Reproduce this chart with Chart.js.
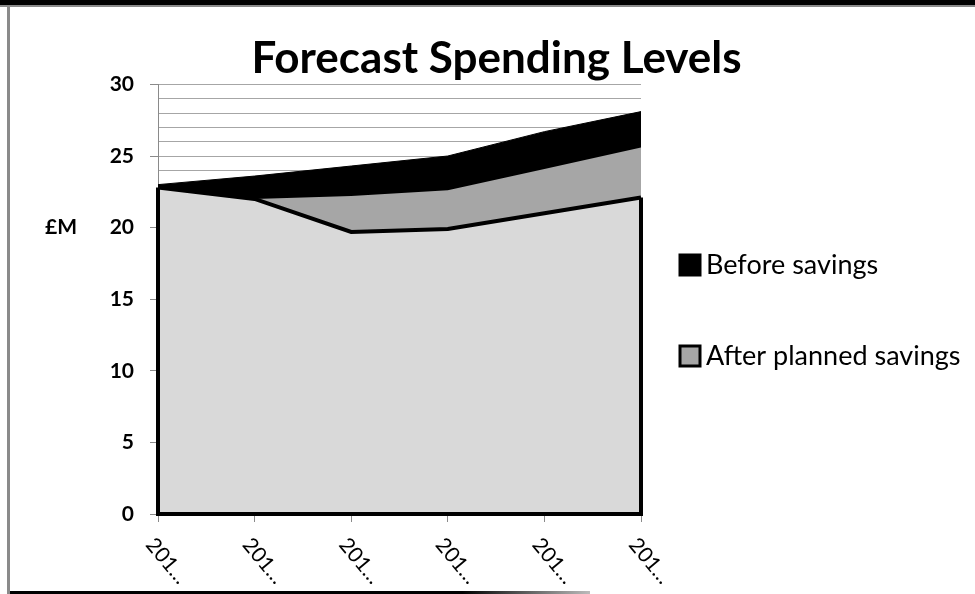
<!DOCTYPE html>
<html>
<head>
<meta charset="utf-8">
<script src="https://cdn.jsdelivr.net/npm/chart.js@4/dist/chart.umd.min.js"></script>
<style>
  html, body { margin: 0; padding: 0; background: #fff; }
  #wrap { position: relative; width: 975px; height: 594px; overflow: hidden; }
  #chart { position: absolute; left: 0; top: 0; }
  .topband { position: absolute; left: 0; top: 0; width: 975px; height: 5px; background: #000; }
  .topgray { position: absolute; left: 0; top: 5px; width: 975px; height: 2px; background: #8a8a8a; }
  .leftline { position: absolute; left: 7px; top: 5px; width: 3px; height: 589px; background: #8a8a8a; }
  .bottomline { position: absolute; left: 10px; top: 591px; width: 580px; height: 3px;
    background: linear-gradient(to right, #000 0%, #000 78%, #bbb 100%); }
</style>
</head>
<body>
<div id="wrap">
  <canvas id="chart" width="975" height="594"></canvas>
  <div class="topband"></div>
  <div class="topgray"></div>
  <div class="leftline"></div>
  <div class="bottomline"></div>
</div>
<script>
// chart data
const years = ["201…", "201…", "201…", "201…", "201…", "201…"];
const beforeSavings = [23.0, 23.6, 24.3, 25.0, 26.7, 28.1];
const afterPlanned = [22.8, 22.0, 22.2, 22.6, 24.1, 25.6];
const baseline = [22.8, 22.0, 19.7, 19.9, 21.0, 22.1];

const FONT = "Lato, 'Open Sans', sans-serif";

// outline the baseline area on its left, bottom and right edges like excel does
const areaOutline = {
  id: "areaOutline",
  afterDatasetsDraw(chart) {
    const pts = chart.getDatasetMeta(0).data;
    if (!pts.length) return;
    const yBottom = chart.scales.y.getPixelForValue(0);
    const ctx = chart.ctx;
    const first = pts[0], last = pts[pts.length - 1];
    ctx.save();
    ctx.strokeStyle = "#000";
    ctx.lineWidth = 4;
    ctx.beginPath();
    ctx.moveTo(first.x, first.y);
    ctx.lineTo(first.x, yBottom);
    ctx.lineTo(last.x, yBottom);
    ctx.lineTo(last.x, last.y);
    ctx.stroke();
    ctx.restore();
  }
};

// slanted category labels, "£M" unit and the legend on the right
const extras = {
  id: "extras",
  afterDraw(chart) {
    const ctx = chart.ctx;
    const x = chart.scales.x, y = chart.scales.y;
    const area = chart.chartArea;
    ctx.save();
    ctx.fillStyle = "#000";
    ctx.font = "21px " + FONT;
    ctx.textAlign = "left";
    ctx.textBaseline = "middle";
    years.forEach((lab, i) => {
      const px = x.getPixelForTick(i);
      ctx.save();
      ctx.translate(px - 8, y.bottom + 27);
      ctx.rotate(50 * Math.PI / 180);
      ctx.fillText(lab, 0, 0);
      ctx.restore();
    });

    ctx.font = "bold 21px " + FONT;
    ctx.fillText("£M", 45, y.getPixelForValue(20));

    // legend: Before savings first, then After planned savings
    const items = [chart.data.datasets[2], chart.data.datasets[1]];
    const lx = area.right + 39;
    let ly = 265;
    ctx.font = "27px " + FONT;
    items.forEach(ds => {
      ctx.fillStyle = ds.backgroundColor;
      ctx.fillRect(lx, ly - 10, 20, 20);
      ctx.strokeStyle = "#000";
      ctx.lineWidth = 3;
      ctx.strokeRect(lx, ly - 10, 20, 20);
      ctx.fillStyle = "#000";
      ctx.fillText(ds.label, lx + 26, ly);
      ly += 91;
    });
    ctx.restore();
  }
};

new Chart(document.getElementById("chart").getContext("2d"), {
  type: "line",
  data: {
    labels: years,
    datasets: [
      {
        label: "Baseline",
        data: baseline,
        backgroundColor: "#d9d9d9",
        borderColor: "#000",
        borderWidth: 4,
        fill: "origin",
        pointRadius: 0,
        tension: 0
      },
      {
        label: "After planned savings",
        data: afterPlanned,
        backgroundColor: "#a6a6a6",
        borderColor: "#a6a6a6",
        borderWidth: 0,
        fill: "origin",
        pointRadius: 0,
        tension: 0
      },
      {
        label: "Before savings",
        data: beforeSavings,
        backgroundColor: "#000",
        borderColor: "#000",
        borderWidth: 1,
        fill: "origin",
        pointRadius: 0,
        tension: 0
      }
    ]
  },
  plugins: [areaOutline, extras],
  options: {
    responsive: false,
    animation: false,
    layout: { padding: { left: 18, right: 0, top: 0, bottom: 72 } },
    plugins: {
      title: {
        display: true,
        text: "Forecast Spending Levels",
        color: "#000",
        font: { family: FONT, size: 44, weight: "bold", lineHeight: 1.1 },
        padding: { top: 35, bottom: 1 }
      },
      legend: { display: false },
      tooltip: { enabled: false }
    },
    scales: {
      x: {
        offset: false,
        ticks: { display: false },
        grid: { drawOnChartArea: false, drawTicks: true, tickLength: 8, color: "#8a8a8a" },
        border: { color: "#8a8a8a", width: 1 }
      },
      y: {
        min: 0,
        max: 30,
        afterFit(scale) { scale.width = 140; },
        ticks: {
          stepSize: 1,
          autoSkip: false,
          padding: 16,
          color: "#000",
          font: { family: FONT, size: 21, weight: "bold" },
          callback: v => (v % 5 === 0 ? v : "")
        },
        grid: {
          color: "#a6a6a6",
          tickLength: 8,
          tickColor: ctx => (ctx.tick && ctx.tick.value % 5 === 0 ? "#8a8a8a" : "rgba(0,0,0,0)")
        },
        border: { color: "#8a8a8a", width: 1 }
      },
      // empty axis that keeps room for the legend
      legendSpace: {
        type: "linear",
        position: "right",
        display: true,
        afterFit(scale) { scale.width = 334; },
        ticks: { display: false },
        grid: { display: false },
        border: { display: false }
      }
    }
  }
});
</script>
</body>
</html>
